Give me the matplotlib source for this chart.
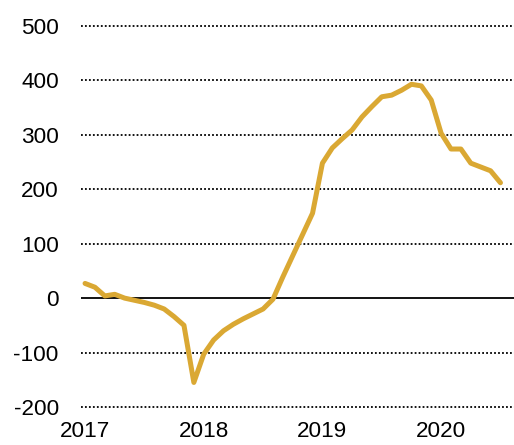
import numpy as np
import matplotlib
matplotlib.use("Agg")
import matplotlib.pyplot as plt

plt.rcParams['font.family'] = ['Liberation Sans', 'DejaVu Sans']

# monthly values, Jan 2017 - Jul 2020
start_year = 2017
values = [27, 20, 4, 7, 0, -4, -8, -13, -20, -34, -50, -155,
          -103, -77, -60, -48, -38, -29, -20, -2, 39, 78, 117, 156,
          248, 276, 293, 309, 333, 352, 370, 373, 382, 393, 390, 364,
          303, 274, 274, 248, 241, 234, 212]
year_ticks = [2017, 2018, 2019, 2020]
y_ticks = [-200, -100, 0, 100, 200, 300, 400, 500]

x = start_year + np.arange(len(values)) / 12.0

fig = plt.figure(figsize=(5.14, 4.45), dpi=100)
ax = fig.add_axes([0.1576, 0.0733, 0.8424, 0.8804])

for yv in y_ticks:
    if yv == 0:
        ax.axhline(0, color='black', lw=1.3, zorder=1)
    else:
        ax.axhline(yv, color='black', lw=1.3, linestyle=(0, (1, 1.2)), zorder=1)

ax.plot(x, values, color='#DAA833', lw=3.6, solid_joinstyle='round',
        solid_capstyle='round', zorder=3)

ax.set_xlim(2016.966, 2020.614)
ax.set_ylim(-210, 510)
ax.set_xticks(year_ticks)
ax.set_xticklabels([str(y) for y in year_ticks])
ax.set_yticks(y_ticks)
ax.set_yticklabels([str(v) for v in y_ticks])
ax.tick_params(axis='both', length=0, labelsize=16.2, colors='black')
ax.tick_params(axis='y', pad=16)
ax.tick_params(axis='x', pad=6)
for s in ax.spines.values():
    s.set_visible(False)

fig.savefig('out.png', dpi=100)
